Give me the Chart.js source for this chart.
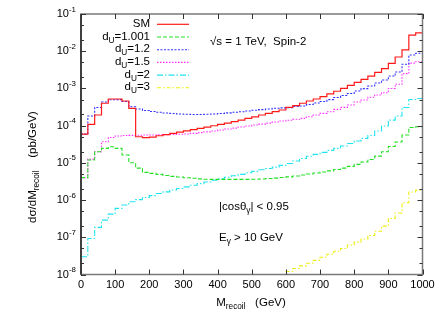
<!DOCTYPE html>
<html><head><meta charset="utf-8">
<script src="https://cdn.jsdelivr.net/npm/chart.js@4/dist/chart.umd.min.js"></script>
<style>html,body{margin:0;padding:0;background:#fff;}canvas{display:block;}</style>
</head><body>
<canvas id="c" width="443" height="310"></canvas>
<script>
// ---- data (bin lower edges, 20 GeV bins) ----
const binLow = [0,20,40,60,80,100,120,140,160,180,200,220,240,260,280,300,320,340,360,380,
  400,420,440,460,480,500,520,540,560,580,600,620,640,660,680,700,720,740,760,780,
  800,820,840,860,880,900,920,940,960,980];
const binEnd = 1000;
const seriesLabels = ['SM','1.001','1.2','1.5','2','3'];
const sm = [5.9e-5,1.08e-4,1.93e-4,4.0e-4,5.2e-4,5.2e-4,4.6e-4,2.9e-4,5.03e-5,4.79e-5,
  4.94e-5,5.35e-5,5.77e-5,6.21e-5,6.73e-5,7.25e-5,7.8e-5,8.46e-5,9.17e-5,9.93e-5,
  1.08e-4,1.17e-4,1.29e-4,1.41e-4,1.57e-4,1.73e-4,1.93e-4,2.14e-4,2.37e-4,2.63e-4,
  3.1e-4,3.43e-4,4.0e-4,4.6e-4,5.2e-4,6.0e-4,7.1e-4,8.4e-4,1.0e-3,1.21e-3,
  1.46e-3,1.76e-3,2.15e-3,2.71e-3,3.39e-3,4.7e-3,7.0e-3,1.08e-2,2.7e-2,3.1e-2];
const du1001 = [4.0e-6,1.19e-5,1.99e-5,2.45e-5,2.71e-5,2.45e-5,1.62e-5,1.01e-5,7.24e-6,5.56e-6,
  5.22e-6,4.91e-6,4.56e-6,4.34e-6,4.15e-6,3.98e-6,3.86e-6,3.72e-6,3.62e-6,3.6e-6,
  3.6e-6,3.6e-6,3.6e-6,3.6e-6,3.6e-6,3.62e-6,3.7e-6,3.79e-6,3.9e-6,4.03e-6,
  4.2e-6,4.42e-6,4.7e-6,5.0e-6,5.32e-6,5.66e-6,6.1e-6,6.6e-6,7.24e-6,8.05e-6,
  9.1e-6,1.05e-5,1.23e-5,1.52e-5,1.99e-5,2.74e-5,3.62e-5,5.58e-5,8.9e-5,9.3e-5];
const du12 = [5.9e-5,1.81e-4,3.07e-4,4.3e-4,4.97e-4,5.0e-4,4.45e-4,3.22e-4,2.79e-4,2.55e-4,
  2.39e-4,2.28e-4,2.18e-4,2.12e-4,2.05e-4,2.02e-4,2.0e-4,2.0e-4,2.02e-4,2.06e-4,
  2.11e-4,2.2e-4,2.28e-4,2.36e-4,2.47e-4,2.58e-4,2.69e-4,2.79e-4,2.92e-4,3.01e-4,
  3.05e-4,3.26e-4,3.37e-4,3.69e-4,4.05e-4,4.45e-4,5.0e-4,5.7e-4,6.45e-4,7.3e-4,
  8.5e-4,9.9e-4,1.16e-3,1.4e-3,1.68e-3,2.15e-3,2.76e-3,4.45e-3,7.9e-3,8.8e-3];
const du15 = [4.0e-6,1.26e-5,1.99e-5,3.69e-5,4.79e-5,5.25e-5,5.42e-5,5.47e-5,5.5e-5,5.58e-5,
  5.63e-5,5.7e-5,5.73e-5,5.8e-5,5.87e-5,5.98e-5,6.21e-5,6.48e-5,6.8e-5,7.16e-5,
  7.62e-5,8.1e-5,8.6e-5,9.2e-5,9.8e-5,1.04e-4,1.1e-4,1.17e-4,1.25e-4,1.33e-4,
  1.39e-4,1.48e-4,1.57e-4,1.73e-4,1.93e-4,2.14e-4,2.37e-4,2.74e-4,3.1e-4,3.58e-4,
  4.3e-4,4.88e-4,5.77e-4,6.65e-4,7.66e-4,1.0e-3,1.3e-3,2.5e-3,4.8e-3,5.2e-3];
const du2 = [3.0e-8,9.3e-8,1.85e-7,2.9e-7,4.2e-7,5.98e-7,7.34e-7,9.0e-7,1.03e-6,1.17e-6,
  1.32e-6,1.5e-6,1.66e-6,1.86e-6,2.05e-6,2.26e-6,2.5e-6,2.76e-6,3.05e-6,3.4e-6,
  3.75e-6,4.1e-6,4.5e-6,4.9e-6,5.4e-6,5.9e-6,6.5e-6,7.03e-6,7.7e-6,8.57e-6,
  9.57e-6,1.12e-5,1.31e-5,1.5e-5,1.69e-5,1.91e-5,2.17e-5,2.45e-5,2.83e-5,3.3e-5,
  3.86e-5,4.56e-5,5.42e-5,7.16e-5,9.75e-5,1.41e-4,1.81e-4,3.07e-4,5.03e-4,5.35e-4];
const du3 = [null,null,null,null,null,null,null,null,null,null,
  null,null,null,null,null,null,null,null,null,null,
  null,null,null,null,null,null,null,null,null,1.0e-8,
  1.2e-8,1.45e-8,1.7e-8,2.0e-8,2.4e-8,2.9e-8,3.5e-8,4.2e-8,5.0e-8,6.2e-8,
  7.4e-8,9.0e-8,1.12e-7,1.45e-7,2.0e-7,3.2e-7,4.5e-7,8.5e-7,1.65e-6,1.85e-6];
const xTickValues = [0,100,200,300,400,500,600,700,800,900,1000];
const yDecadeExp = [-1,-2,-3,-4,-5,-6,-7,-8];

// ---- styles ----
const FONT = '"Liberation Sans", Arial, Helvetica, sans-serif';
const styles = [
  {color:'#ff1a1a', dash:[], width:1.2},
  {color:'#22e022', dash:[4,2], width:1.1},
  {color:'#3030ff', dash:[2,1.5], width:1.1},
  {color:'#ff30ff', dash:[1.5,1.5], width:1.1},
  {color:'#20e4ee', dash:[6,2,1.5,2], width:1.1},
  {color:'#eeee10', dash:[4,2,1.5,2], width:1.1}
];
const allSeries = [sm, du1001, du12, du15, du2, du3];

function toPoints(vals){
  const pts = binLow.map((x,i)=>({x:x, y:vals[i]}));
  pts.push({x:binEnd, y:vals[vals.length-1]});
  return pts;
}

const datasets = allSeries.map((vals,i)=>({
  label: seriesLabels[i],
  data: toPoints(vals),
  borderColor: styles[i].color,
  borderWidth: styles[i].width,
  borderDash: styles[i].dash,
  pointRadius: 0,
  stepped: 'before',
  fill: false,
  spanGaps: false
}));

function drawRich(ctx, parts, x, y, align, size){
  const sz = size || 11.5;
  const fs = [sz, sz*0.72, sz*0.72];
  const off = [0, sz*0.33, -sz*0.42];
  let w = 0;
  parts.forEach(p=>{ctx.font = fs[p[1]]+'px '+FONT; w += ctx.measureText(p[0]).width;});
  let cx = align==='right' ? x-w : (align==='center' ? x-w/2 : x);
  ctx.textAlign='left'; ctx.textBaseline='middle'; ctx.fillStyle='#000';
  parts.forEach(p=>{ctx.font = fs[p[1]]+'px '+FONT; ctx.fillText(p[0], cx, y+off[p[1]]); cx += ctx.measureText(p[0]).width;});
}

const decor = {
  id:'decor',
  afterDatasetsDraw(chart){
    const ctx = chart.ctx, a = chart.chartArea;
    const xs = chart.scales.x, ys = chart.scales.y;
    ctx.save();
    ctx.setLineDash([]);
    // frame
    ctx.strokeStyle = '#7a7a7a'; ctx.lineWidth = 1.5;
    ctx.strokeRect(a.left, a.top, a.right-a.left, a.bottom-a.top);
    ctx.strokeStyle = '#222'; ctx.lineWidth = 1.5;
    ctx.beginPath(); ctx.moveTo(a.left, a.top); ctx.lineTo(a.left, a.bottom); ctx.stroke();
    // ticks
    ctx.strokeStyle = '#333'; ctx.lineWidth = 1;
    xTickValues.forEach(v=>{
      const px = Math.round(xs.getPixelForValue(v))+0.5;
      ctx.beginPath();
      ctx.moveTo(px, a.bottom); ctx.lineTo(px, a.bottom-5);
      ctx.moveTo(px, a.top); ctx.lineTo(px, a.top+5);
      ctx.stroke();
    });
    yDecadeExp.forEach(e=>{
      const py = Math.round(ys.getPixelForValue(Math.pow(10,e)))+0.5;
      ctx.beginPath();
      ctx.moveTo(a.left, py); ctx.lineTo(a.left+5, py);
      ctx.moveTo(a.right, py); ctx.lineTo(a.right-5, py);
      ctx.stroke();
      if (e > -8) {
        [2,5].forEach(m=>{
          const pm = Math.round(ys.getPixelForValue(m*Math.pow(10,e-1)))+0.5;
          ctx.beginPath();
          ctx.moveTo(a.left, pm); ctx.lineTo(a.left+3, pm);
          ctx.moveTo(a.right, pm); ctx.lineTo(a.right-3, pm);
          ctx.stroke();
        });
      }
    });
    // x tick labels
    ctx.fillStyle = '#000'; ctx.font = '11px '+FONT;
    ctx.textAlign = 'center'; ctx.textBaseline = 'middle';
    xTickValues.forEach(v=>{ ctx.fillText(String(v), xs.getPixelForValue(v), 285); });
    // y tick labels
    yDecadeExp.forEach(e=>{
      const py = ys.getPixelForValue(Math.pow(10,e));
      drawRich(ctx, [['10',0],[String(e),2]], 76, py, 'right', 11);
    });
    // axis titles
    drawRich(ctx, [['M',0],['recoil',1],['   (GeV)',0]], 251, 302.5, 'center', 11.5);
    ctx.save();
    ctx.translate(33, 167); ctx.rotate(-Math.PI/2);
    drawRich(ctx, [['d\u03c3/dM',0],['recoil',1],['    (pb/GeV)',0]], 0, 0, 'center', 11.5);
    ctx.restore();
    // legend
    const legendText = [
      [['SM',0]],
      [['d',0],['U',1],['=1.001',0]],
      [['d',0],['U',1],['=1.2',0]],
      [['d',0],['U',1],['=1.5',0]],
      [['d',0],['U',1],['=2',0]],
      [['d',0],['U',1],['=3',0]]
    ];
    legendText.forEach((parts,i)=>{
      const ly = 24.3 + i*12.7;
      drawRich(ctx, parts, 150, ly - 0.5, 'right', 11.5);
      ctx.save();
      ctx.strokeStyle = styles[i].color; ctx.lineWidth = styles[i].width;
      ctx.setLineDash(styles[i].dash);
      ctx.beginPath(); ctx.moveTo(157, ly); ctx.lineTo(189, ly); ctx.stroke();
      ctx.restore();
    });
    // annotations
    drawRich(ctx, [['\u221as = 1 TeV,  Spin-2',0]], 210, 41.5, 'left', 11.5);
    drawRich(ctx, [['|cos\u03b8',0],['\u03b3',1],['| < 0.95',0]], 219, 207, 'left', 11.5);
    drawRich(ctx, [['E',0],['\u03b3',1],[' > 10 GeV',0]], 219, 237.5, 'left', 11.5);
    ctx.restore();
  }
};

new Chart(document.getElementById('c'), {
  type:'line',
  data:{datasets:datasets},
  options:{
    responsive:false,
    animation:false,
    devicePixelRatio:1,
    layout:{padding:{left:81, right:20.5, top:14, bottom:35.5}},
    scales:{
      x:{type:'linear', min:0, max:1000, display:false},
      y:{type:'logarithmic', min:1e-8, max:1e-1, display:false}
    },
    plugins:{legend:{display:false}, tooltip:{enabled:false}},
    elements:{line:{tension:0}}
  },
  plugins:[decor]
});
</script>
</body></html>
